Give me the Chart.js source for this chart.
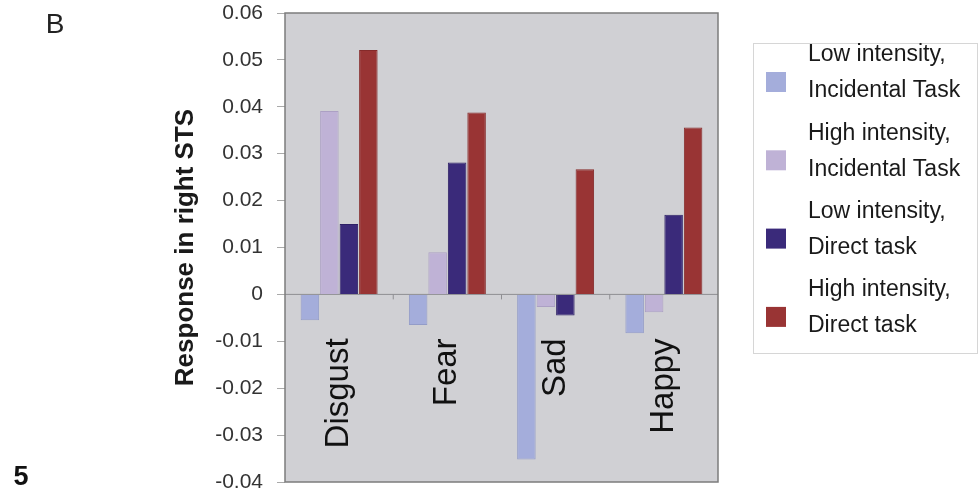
<!DOCTYPE html>
<html>
<head>
<meta charset="utf-8">
<script src="https://cdn.jsdelivr.net/npm/chart.js@4"></script>
<style>
  html, body { margin: 0; padding: 0; background: #fff; }
  #wrap { width: 979px; height: 497px; position: relative; }
</style>
</head>
<body>
<div id="wrap"><canvas id="stsChart"></canvas></div>
<script>
// Kategoriler ve seriler
const categories = ["Disgust", "Fear", "Sad", "Happy"];
const lowIncidental = [-0.0055, -0.0065, -0.0352, -0.0083];
const highIncidental = [0.0391, 0.0090, -0.0027, -0.0038];
const lowDirect = [0.0150, 0.0281, -0.0045, 0.0170];
const highDirect = [0.0521, 0.0388, 0.0267, 0.0356];
const seriesLabels = [
    ["Low intensity,", "Incidental Task"],
    ["High intensity,", "Incidental Task"],
    ["Low intensity,", "Direct task"],
    ["High intensity,", "Direct task"]
];
const yTicks = [-0.04, -0.03, -0.02, -0.01, 0, 0.01, 0.02, 0.03, 0.04, 0.05, 0.06];

const FONT = "'Liberation Sans', Arial, Helvetica, sans-serif";

// Çizim alanı arka planı, çerçeve, kategori etiketleri ve lejant
const decorPlugin = {
    id: "decor",
    beforeDatasetsDraw(chart) {
        const { ctx, chartArea: a } = chart;
        ctx.save();
        ctx.fillStyle = "#d0d0d4";
        ctx.fillRect(a.left, a.top, a.right - a.left, a.bottom - a.top);
        // sıfır çizgisi
        const y0 = chart.scales.y.getPixelForValue(0);
        ctx.strokeStyle = "#8e8e92";
        ctx.lineWidth = 1;
        ctx.beginPath();
        ctx.moveTo(a.left, y0);
        ctx.lineTo(a.right, y0);
        ctx.stroke();
        // kategori sınırlarındaki küçük çentikler
        const xs = chart.scales.x;
        for (let i = 0; i < categories.length - 1; i++) {
            const bx = (xs.getPixelForValue(i) + xs.getPixelForValue(i + 1)) / 2;
            ctx.beginPath();
            ctx.moveTo(bx, y0);
            ctx.lineTo(bx, y0 + 5);
            ctx.stroke();
        }
        ctx.restore();
    },
    afterDraw(chart) {
        const { ctx, chartArea: a } = chart;
        const xs = chart.scales.x;
        const y0 = chart.scales.y.getPixelForValue(0);
        ctx.save();
        // çerçeve
        ctx.strokeStyle = "#7c7c7c";
        ctx.lineWidth = 1.5;
        ctx.strokeRect(a.left, a.top, a.right - a.left, a.bottom - a.top);

        // döndürülmüş kategori etiketleri
        ctx.fillStyle = "#111";
        ctx.font = "33px " + FONT;
        ctx.textAlign = "right";
        ctx.textBaseline = "middle";
        categories.forEach((c, i) => {
            ctx.save();
            ctx.translate(xs.getPixelForValue(i), y0 + 44);
            ctx.rotate(-Math.PI / 2);
            ctx.fillText(c, 0, 0);
            ctx.restore();
        });

        // lejant kutusu
        ctx.strokeStyle = "#d6d6d6";
        ctx.lineWidth = 1;
        ctx.strokeRect(753.5, 43.5, 224, 310);
        ctx.font = "23px " + FONT;
        ctx.textAlign = "left";
        ctx.textBaseline = "middle";
        chart.data.datasets.forEach((ds, i) => {
            const top = 72 + i * 78.3;
            ctx.fillStyle = ds.backgroundColor;
            ctx.fillRect(766, top, 20, 20);
            ctx.fillStyle = "#1a1a1a";
            ctx.fillText(seriesLabels[i][0], 808, 55 + i * 78.3);
            ctx.fillText(seriesLabels[i][1], 808, 91 + i * 78.3);
        });

        // panel harfi ve sayfa numarası
        ctx.font = "28px " + FONT;
        ctx.fillStyle = "#222";
        ctx.textAlign = "center";
        ctx.fillText("B", 55, 25);
        ctx.font = "bold 27px " + FONT;
        ctx.fillStyle = "#111";
        ctx.fillText("5", 21, 478);
        ctx.restore();
    }
};

new Chart(document.getElementById("stsChart"), {
    type: "bar",
    data: {
        labels: categories,
        datasets: [
            { label: seriesLabels[0].join(" "), data: lowIncidental, backgroundColor: "#a4addb", borderColor: "#939cc8" },
            { label: seriesLabels[1].join(" "), data: highIncidental, backgroundColor: "#bfb2d6", borderColor: "#aca0c4" },
            { label: seriesLabels[2].join(" "), data: lowDirect, backgroundColor: "#3a2a7a", borderColor: "#2e2066" },
            { label: seriesLabels[3].join(" "), data: highDirect, backgroundColor: "#993434", borderColor: "#852a2a" }
        ].map(ds => Object.assign(ds, {
            borderWidth: 1,
            barPercentage: 0.95,
            categoryPercentage: 0.72
        }))
    },
    options: {
        responsive: true,
        maintainAspectRatio: false,
        animation: false,
        layout: { padding: { left: 160, top: 13, right: 261, bottom: 15 } },
        plugins: {
            legend: { display: false },
            tooltip: { enabled: false }
        },
        scales: {
            x: {
                ticks: { display: false },
                grid: { display: false },
                border: { display: false },
                afterFit: scale => { scale.height = 0; }
            },
            y: {
                min: -0.04,
                max: 0.06,
                afterBuildTicks: scale => {
                    scale.ticks = yTicks.map(v => ({ value: v }));
                },
                afterFit: scale => {
                    scale.width = 125;
                    // etiket taşması için eklenen boşluğu kaldır
                    scale.paddingTop = 0;
                    scale.paddingBottom = 0;
                },
                ticks: {
                    padding: 14,
                    color: "#333",
                    font: { family: FONT, size: 21 },
                    callback: v => String(+v.toFixed(2))
                },
                grid: {
                    drawOnChartArea: false,
                    tickLength: 8,
                    tickColor: "#aaa"
                },
                border: { display: false },
                title: {
                    display: true,
                    text: "Response in right STS",
                    color: "#1a1a1a",
                    font: { family: FONT, size: 26, weight: "bold" },
                    padding: { top: 10, bottom: 0 }
                }
            }
        }
    },
    plugins: [decorPlugin]
});
</script>
</body>
</html>
